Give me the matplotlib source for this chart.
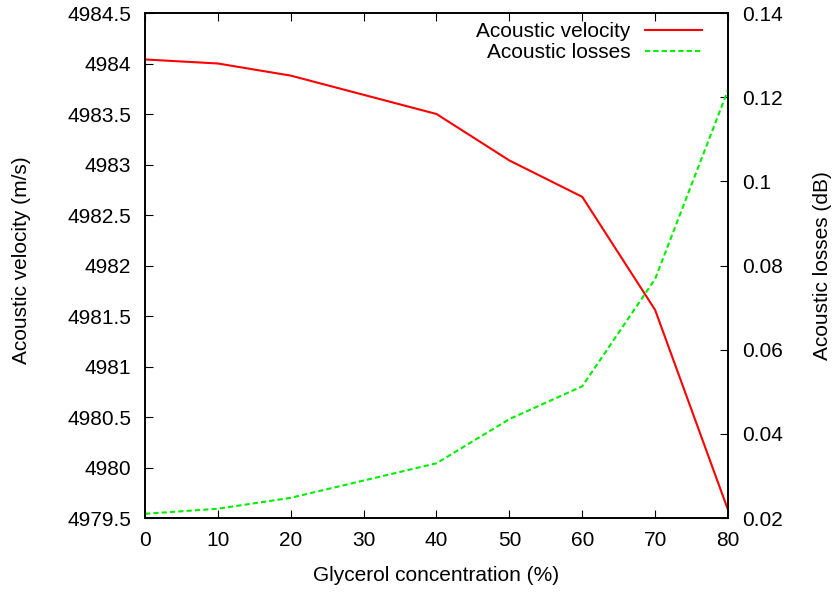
import matplotlib.pyplot as plt

plt.rcParams['font.family'] = ['Liberation Sans', 'DejaVu Sans']
plt.rcParams['font.size'] = 15

# data
concentration = [0, 10, 20, 40, 50, 60, 70, 80]
velocity = [4984.04, 4984.00, 4983.88, 4983.50, 4983.04, 4982.68, 4981.56, 4979.58]
losses = [0.0210, 0.0222, 0.0248, 0.0330, 0.0435, 0.0513, 0.0768, 0.1217]

fig = plt.figure(figsize=(8.37, 5.92), dpi=100)
ax = fig.add_axes([145 / 837, 1 - 518 / 592, (728 - 145) / 837, (518 - 13) / 592])
ax2 = ax.twinx()

l1, = ax.plot(concentration, velocity, color='#ff0000', lw=1.5, label='Acoustic velocity')
l2, = ax2.plot(concentration, losses, color='#00ee00', lw=1.5, linestyle=(0, (2.5, 1.5)),
               label='Acoustic losses')

ax.set_xlim(0, 80)
ax.set_ylim(4979.5, 4984.5)
ax2.set_ylim(0.02, 0.14)
ax.set_xticks(range(0, 81, 10))
ax.set_yticks([4979.5 + 0.5 * i for i in range(11)])
ax.set_yticklabels(['%g' % (4979.5 + 0.5 * i) for i in range(11)])
ax2.set_yticks([0.02 + 0.02 * i for i in range(7)])
ax2.set_yticklabels(['%g' % round(0.02 + 0.02 * i, 2) for i in range(7)])

ax.tick_params(axis='x', direction='in', top=True, length=6, pad=9)
ax.tick_params(axis='y', direction='in', length=6, pad=10)
ax2.tick_params(axis='y', direction='in', length=6, pad=10)
for a in (ax, ax2):
    for s in a.spines.values():
        s.set_linewidth(1.2)

ax.set_xlabel('Glycerol concentration (%)', labelpad=12)
ax.set_ylabel('Acoustic velocity (m/s)', labelpad=24)
ax.yaxis.set_label_coords(-0.195, 0.51)
ax2.set_ylabel('Acoustic losses (dB)', labelpad=22)

ax.legend(handles=[l1, l2], loc='upper right', frameon=False, markerfirst=False,
          handlelength=2.75, borderaxespad=0.05, labelspacing=0.1, handletextpad=0.7,
          bbox_to_anchor=(0.972, 1.0))

fig.savefig('out.png', dpi=100)
